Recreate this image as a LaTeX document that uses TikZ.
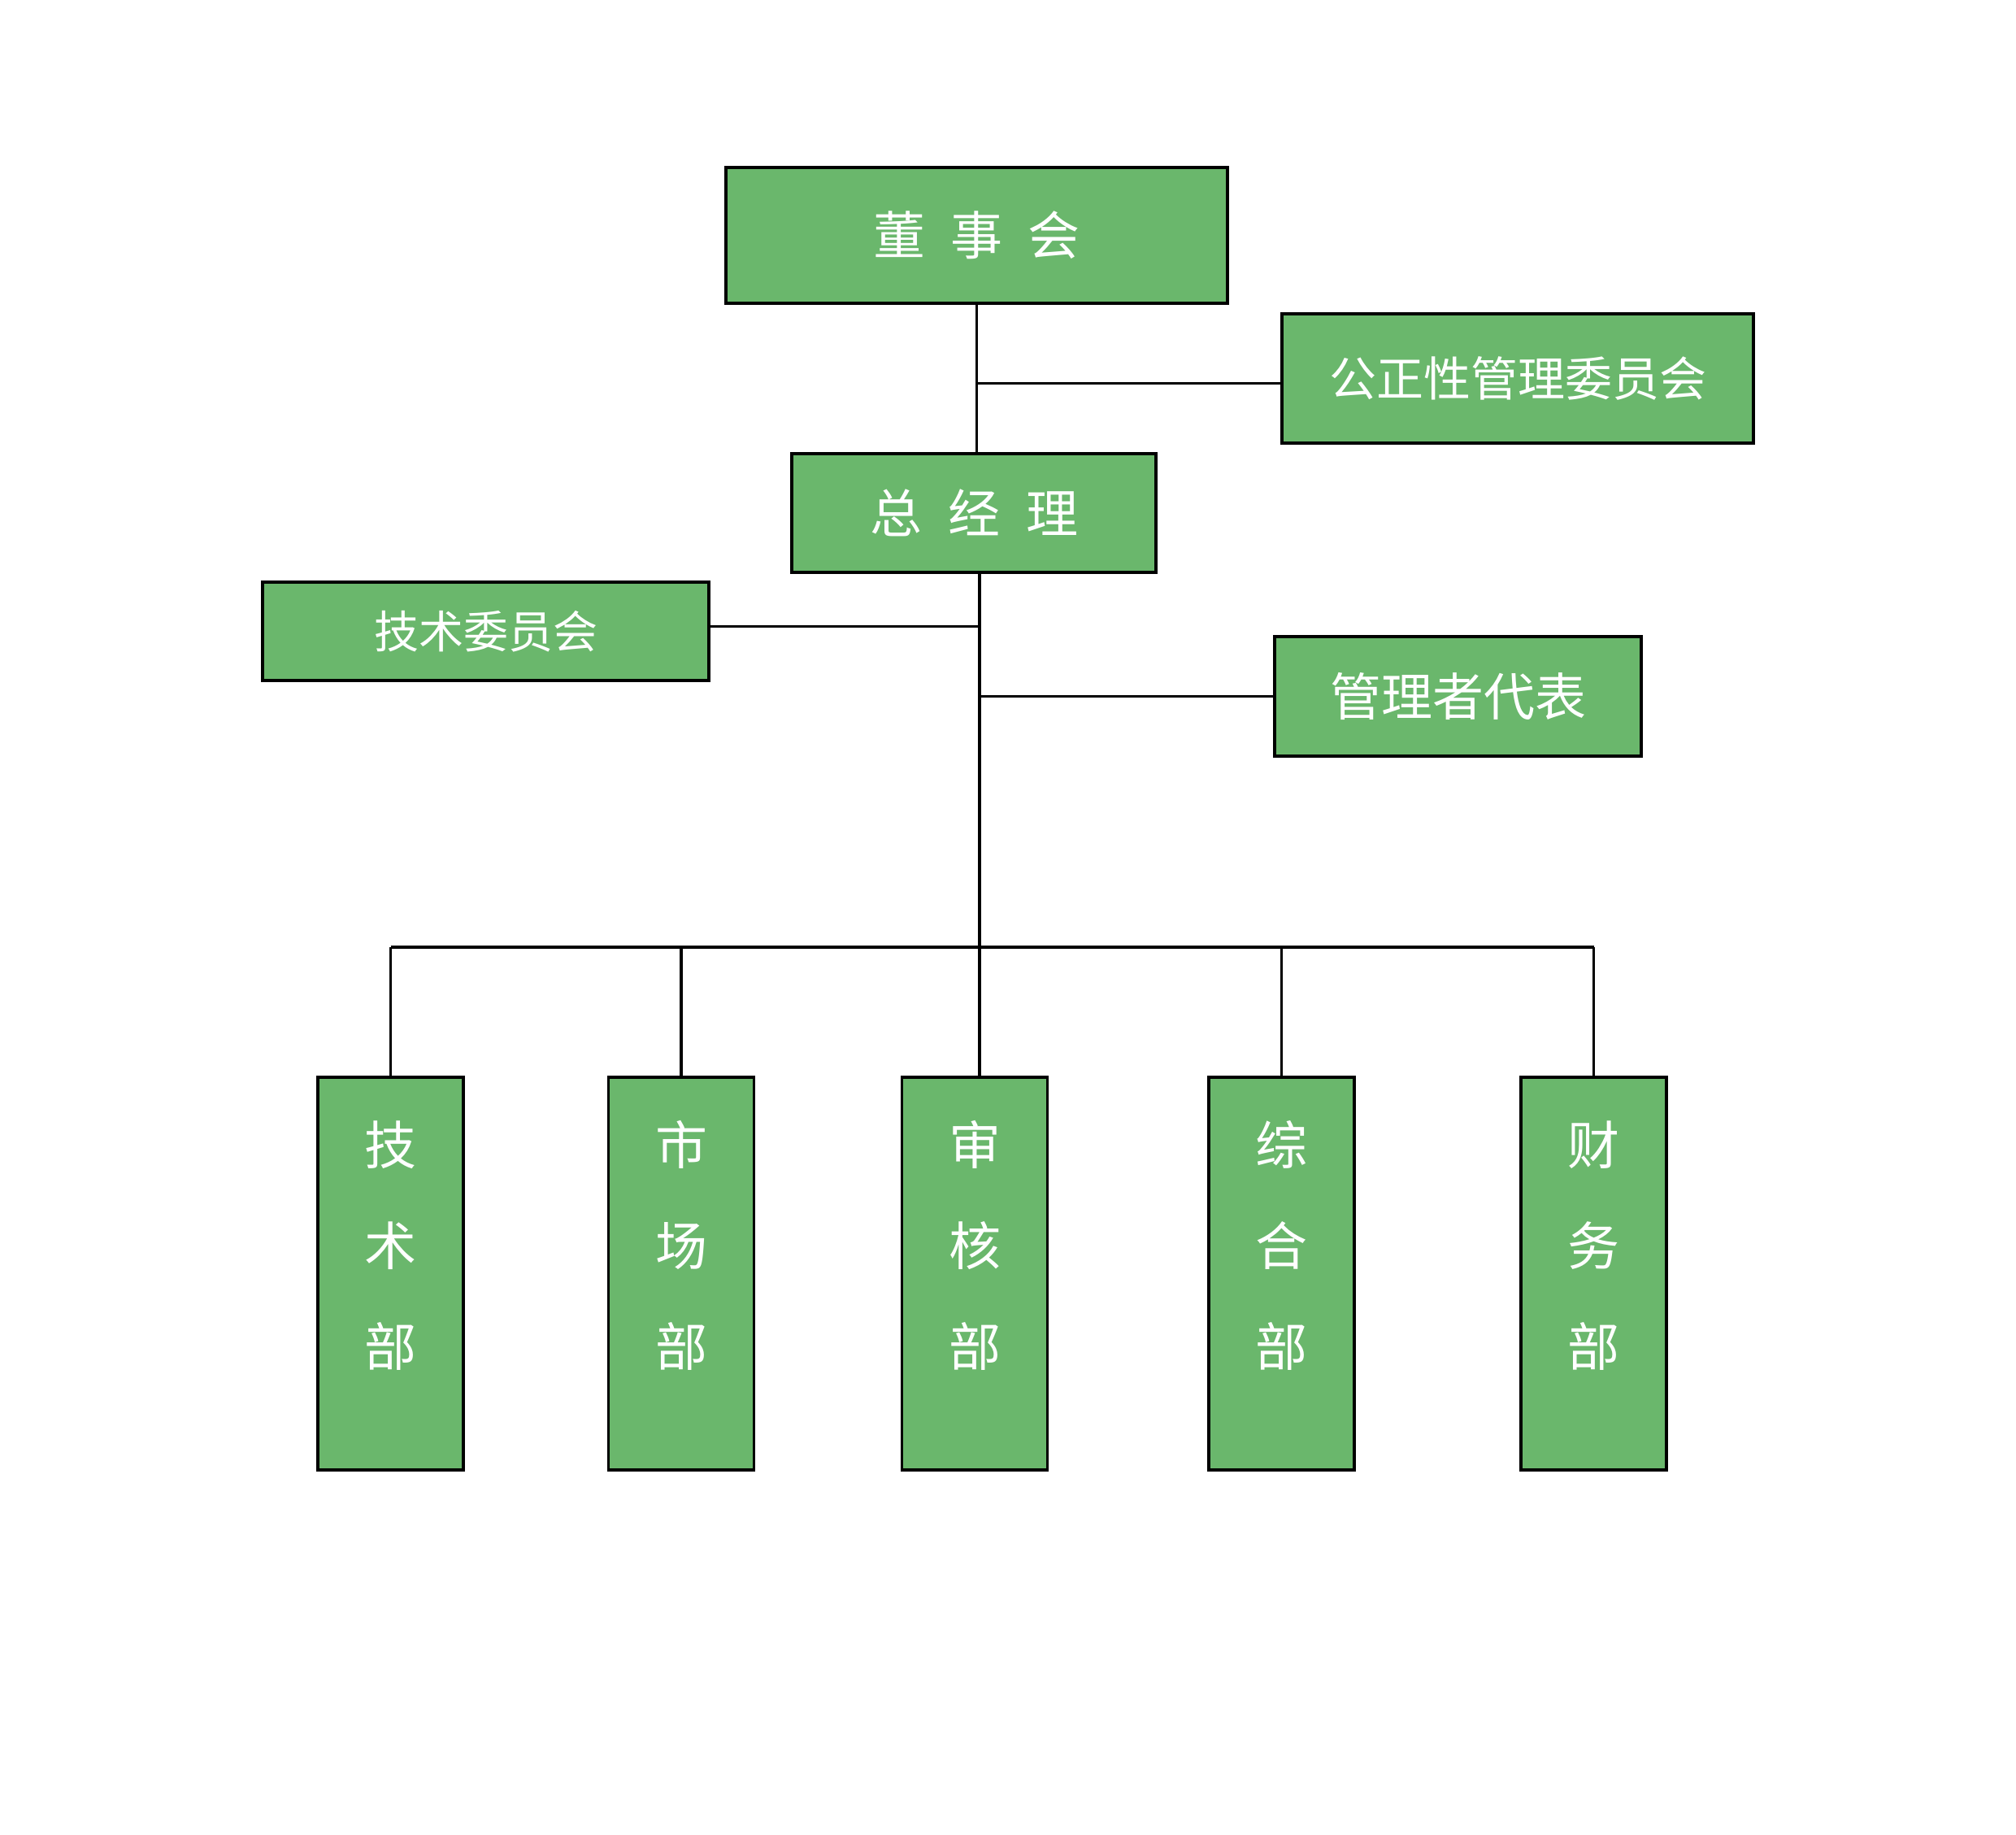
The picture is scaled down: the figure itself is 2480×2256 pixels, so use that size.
\documentclass[tikz,border=0pt]{standalone}
\usepackage{fontspec}
\newfontfamily\cjk{Noto Sans CJK SC}
\definecolor{boxgreen}{HTML}{6AB76C}
\begin{document}
\begin{tikzpicture}[x=0.25pt,y=-0.25pt,
  box/.style={draw=black, line width=0.9pt, fill=boxgreen, inner sep=0pt, text=white},
  dept/.style={box, minimum width=44.75pt, minimum height=120.75pt},
  depttext/.style={text=white, inner sep=0pt, align=center, font=\cjk\fontsize{16pt}{31pt}\selectfont},
  conn/.style={line width=0.8pt, black},
]
\useasboundingbox (0,0) rectangle (2480,2256);
% top boxes
\node[box, minimum width=154.25pt, minimum height=41.75pt, font=\cjk\fontsize{16pt}{16pt}\selectfont] (dsh) at (1201.5,289.5) {董\hspace{7.75pt}事\hspace{7.75pt}会};
\node[box, minimum width=145pt, minimum height=39.75pt, font=\cjk\fontsize{14.5pt}{14.5pt}\selectfont] (gz) at (1867,465.5) {公正性管理委员会};
\node[box, minimum width=112pt, minimum height=36.5pt, font=\cjk\fontsize{16pt}{16pt}\selectfont] (zjl) at (1198,631) {总\hspace{8pt}经\hspace{8pt}理};
\node[box, minimum width=137.25pt, minimum height=30.25pt, font=\cjk\fontsize{13.75pt}{13.75pt}\selectfont] (jw) at (597.5,776.5) {技术委员会};
\node[box, minimum width=112.75pt, minimum height=36.75pt, font=\cjk\fontsize{15.75pt}{15.75pt}\selectfont] (gl) at (1793.5,856.5) {管理者代表};
% departments
\node[dept] (d1) at (480.5,1566.5) {};
\node[dept] (d2) at (838,1566.5) {};
\node[dept] (d3) at (1199,1566.5) {};
\node[dept] (d4) at (1576.5,1566.5) {};
\node[dept] (d5) at (1960.5,1566.5) {};
\node[depttext] (t1) at (480.5,1532) {技\\术\\部};
\node[depttext] (t2) at (838,1532) {市\\场\\部};
\node[depttext] (t3) at (1199,1532) {审\\核\\部};
\node[depttext] (t4) at (1576.5,1532) {综\\合\\部};
\node[depttext] (t5) at (1960.5,1532) {财\\务\\部};
% connectors
\coordinate (bar) at (1205,1165);
\draw[conn] (dsh.south) -- (dsh.south |- zjl.north);
\draw[conn] ([yshift=-1.6pt]gz.west) -- ([yshift=-1.6pt]gz.west -| dsh.south);
\draw[conn] (zjl.south -| bar) -- (bar);
\draw[conn] ([yshift=1.6pt]jw.east) -- ([yshift=1.6pt]jw.east -| bar);
\draw[conn] (gl.west) -- (gl.west -| bar);
\draw[conn, line width=1pt] (d1.north |- bar) -- (d5.north |- bar);
\draw[conn] (bar) -- (bar |- d3.north);
\foreach \i in {1,2,4,5} \draw[conn] (d\i.north) -- (d\i.north |- bar);
\end{tikzpicture}
\end{document}
